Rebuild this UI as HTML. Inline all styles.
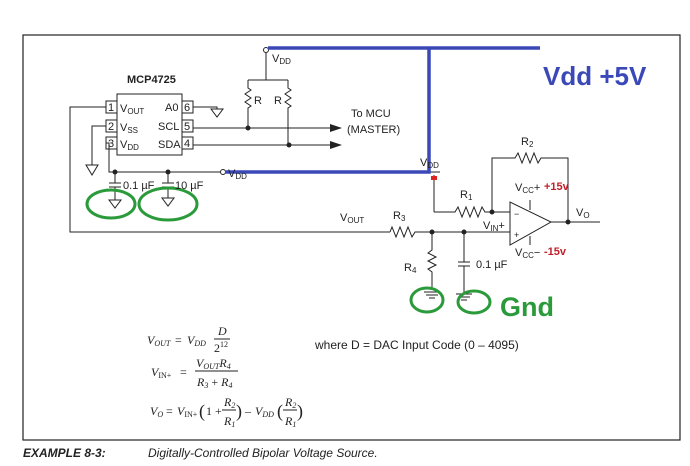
<!DOCTYPE html>
<html><head><meta charset="utf-8"><style>
html,body{margin:0;padding:0;background:#fff;}
svg{display:block;font-family:"Liberation Sans",sans-serif;}
.s{font-family:"Liberation Serif",serif;font-style:italic;}
</style></head><body>
<svg width="690" height="466" viewBox="0 0 690 466" xmlns="http://www.w3.org/2000/svg">
<rect x="23" y="35" width="657" height="405" fill="none" stroke="#222" stroke-width="1.2"/>
<g stroke="#222" stroke-width="1" fill="none">
<rect x="117" y="94" width="65" height="61"/>
<rect x="106" y="101" width="11" height="12"/><rect x="106" y="120" width="11" height="12"/><rect x="106" y="137" width="11" height="12"/>
<rect x="182" y="101" width="11" height="12"/><rect x="182" y="120" width="11" height="12"/><rect x="182" y="137" width="11" height="12"/>
<polyline points="106,107 70,107 70,232 390,232"/>
<polyline points="106,126 92,126 92,165"/>
<polygon points="86,165 98,165 92,175"/>
<polyline points="106,143 109,143 109,172 220,172"/>
<circle cx="223" cy="172" r="2.5"/>
<line x1="115" y1="172" x2="115" y2="183"/><line x1="109" y1="183" x2="121" y2="183"/><line x1="109" y1="187" x2="121" y2="187"/><line x1="115" y1="187" x2="115" y2="200"/>
<polygon points="109,200 121,200 115,208"/>
<line x1="168" y1="172" x2="168" y2="183"/><line x1="162" y1="183" x2="174" y2="183"/><line x1="162" y1="187" x2="174" y2="187"/><line x1="168" y1="187" x2="168" y2="198"/>
<polygon points="162,198 174,198 168,206"/>
<polyline points="193,107 217,107 217,109"/>
<polygon points="211,109 223,109 217,117"/>
<line x1="193" y1="128" x2="330" y2="128"/><line x1="193" y1="145" x2="330" y2="145"/>
<line x1="266" y1="53" x2="266" y2="80"/><line x1="248" y1="80" x2="288" y2="80"/>
<polyline points="248,80 248,88 251,90 245,94 251,98 245,102 251,106 248,108 248,128"/>
<polyline points="288,80 288,88 291,90 285,94 291,98 285,102 291,106 288,108 288,145"/>
<circle cx="266" cy="50" r="2.5"/>
<line x1="434" y1="175" x2="434" y2="212"/><line x1="430" y1="172" x2="440" y2="172"/>
<polyline points="434,212 455,212 458,207 462,217 466,207 470,217 474,207 478,217 482,207 485,212 510,212"/>
<polyline points="492,212 492,158 515,158 518,153 522,163 526,153 530,163 534,153 538,163 541,158 568,158 568,222"/>
<line x1="551" y1="222" x2="600" y2="222"/>
<polygon points="510,202 510,245 551,222"/>
<line x1="530" y1="200" x2="530" y2="210"/><line x1="530" y1="236" x2="530" y2="245"/>
<polyline points="390,232 392,227 396,237 400,227 404,237 408,227 412,237 415,232 510,232"/>
<polyline points="432,232 432,250 428,253 436,257 428,261 436,265 428,269 432,272 432,290"/>
<line x1="464" y1="232" x2="464" y2="262"/><line x1="458" y1="262" x2="470" y2="262"/><line x1="458" y1="266" x2="470" y2="266"/><line x1="464" y1="266" x2="464" y2="292"/>
<line x1="424" y1="292" x2="440" y2="292"/><line x1="426" y1="295" x2="438" y2="295"/><line x1="429" y1="298" x2="435" y2="298"/>
<line x1="456" y1="294" x2="472" y2="294"/><line x1="458" y1="297" x2="470" y2="297"/><line x1="461" y1="300" x2="467" y2="300"/>
</g>
<g fill="#222">
<polygon points="330,124 342,128 330,132"/><polygon points="330,141 342,145 330,149"/>
<circle cx="248" cy="128" r="2.5"/><circle cx="289" cy="145" r="2.5"/>
<circle cx="115" cy="172" r="2.5"/><circle cx="168" cy="172" r="2.5"/>
<circle cx="492" cy="212" r="2.5"/><circle cx="568" cy="222" r="2.5"/>
<circle cx="432" cy="232" r="2.5"/><circle cx="464" cy="232" r="2.5"/>
</g>
<rect x="431" y="176" width="6" height="4" fill="#d22"/>
<g stroke="#3a48b8" stroke-width="3.5" fill="none">
<polyline points="268,48 540,48"/><polyline points="429,48 429,172 225,172"/>
</g>
<text x="543" y="85" font-size="26" font-weight="bold" fill="#3a48b8">Vdd +5V</text>
<g stroke="#2a9a3a" stroke-width="3" fill="none">
<ellipse cx="111" cy="204" rx="24" ry="14"/><ellipse cx="168" cy="204" rx="29" ry="16"/>
<ellipse cx="427" cy="300" rx="16" ry="12"/><ellipse cx="474" cy="302" rx="16" ry="11"/>
</g>
<text x="500" y="316" font-size="27" font-weight="bold" fill="#2a9a3a">Gnd</text>
<g font-size="11" fill="#222">
<text x="127" y="83" font-weight="bold">MCP4725</text>
<text x="108" y="111">1</text><text x="108" y="130">2</text><text x="108" y="147">3</text>
<text x="184" y="111">6</text><text x="184" y="130">5</text><text x="184" y="147">4</text>
<text x="120" y="112">V<tspan font-size="8" dy="2">OUT</tspan></text>
<text x="120" y="131">V<tspan font-size="8" dy="2">SS</tspan></text>
<text x="120" y="148">V<tspan font-size="8" dy="2">DD</tspan></text>
<text x="165" y="111">A0</text><text x="158" y="130">SCL</text><text x="158" y="148">SDA</text>
<text x="272" y="62">V<tspan font-size="8" dy="2">DD</tspan></text>
<text x="228" y="177">V<tspan font-size="8" dy="2">DD</tspan></text>
<text x="254" y="104">R</text><text x="274" y="104">R</text>
<text x="351" y="117">To MCU</text><text x="347" y="133">(MASTER)</text>
<text x="123" y="189">0.1 µF</text><text x="175" y="189">10 µF</text>
<text x="420" y="166">V<tspan font-size="8" dy="2">DD</tspan></text>
<text x="460" y="198">R<tspan font-size="8" dy="2">1</tspan></text>
<text x="521" y="145">R<tspan font-size="8" dy="2">2</tspan></text>
<text x="393" y="219">R<tspan font-size="8" dy="2">3</tspan></text>
<text x="404" y="271">R<tspan font-size="8" dy="2">4</tspan></text>
<text x="340" y="221">V<tspan font-size="8" dy="2">OUT</tspan></text>
<text x="483" y="229">V<tspan font-size="8" dy="2">IN</tspan><tspan dy="-2">+</tspan></text>
<text x="576" y="216">V<tspan font-size="8" dy="2">O</tspan></text>
<text x="515" y="191">V<tspan font-size="8" dy="2">CC</tspan><tspan dy="-2">+</tspan></text>
<text x="515" y="256">V<tspan font-size="8" dy="2">CC</tspan><tspan dy="-2">−</tspan></text>
<text x="476" y="268">0.1 µF</text>
<text x="514" y="217" font-size="9">−</text><text x="514" y="238" font-size="9">+</text>
</g>
<text x="544" y="190" font-size="11" font-weight="bold" fill="#c0202a">+15v</text>
<text x="544" y="255" font-size="11" font-weight="bold" fill="#c0202a">-15v</text>
<!-- equations -->
<g class="s" font-size="12" fill="#222">
<text x="147" y="344">V<tspan font-size="8" dy="2">OUT</tspan></text>
<text x="175" y="344" font-style="normal">=</text>
<text x="187" y="344">V<tspan font-size="8" dy="2">DD</tspan></text>
<text x="218" y="335">D</text><line x1="214" y1="339" x2="230" y2="339" stroke="#222"/>
<text x="214" y="352" font-style="normal">2<tspan font-size="8" dy="-5">12</tspan></text>

<text x="151" y="376">V<tspan font-size="8" dy="2" font-style="normal">IN+</tspan></text>
<text x="180" y="376" font-style="normal">=</text>
<text x="196" y="367">V<tspan font-size="8" dy="2">OUT</tspan><tspan dy="-2">R</tspan><tspan font-size="8" dy="2">4</tspan></text>
<line x1="195" y1="371" x2="238" y2="371" stroke="#222"/>
<text x="197" y="386">R<tspan font-size="8" dy="2">3</tspan><tspan dy="-2" font-style="normal"> + </tspan>R<tspan font-size="8" dy="2">4</tspan></text>

<text x="150" y="415">V<tspan font-size="8" dy="2">O</tspan></text>
<text x="166" y="415" font-style="normal">=</text>
<text x="177" y="415">V<tspan font-size="8" dy="2" font-style="normal">IN+</tspan></text>
<text x="199" y="417" font-size="18" font-style="normal">(</text>
<text x="206" y="415" font-style="normal">1 +</text>
<text x="224" y="406">R<tspan font-size="8" dy="2">2</tspan></text><line x1="222" y1="410" x2="236" y2="410" stroke="#222"/>
<text x="224" y="425">R<tspan font-size="8" dy="2">1</tspan></text>
<text x="236" y="417" font-size="18" font-style="normal">)</text>
<text x="245" y="415" font-style="normal">–</text>
<text x="255" y="415">V<tspan font-size="8" dy="2">DD</tspan></text>
<text x="277" y="417" font-size="18" font-style="normal">(</text>
<text x="285" y="406">R<tspan font-size="8" dy="2">2</tspan></text><line x1="283" y1="410" x2="297" y2="410" stroke="#222"/>
<text x="285" y="425">R<tspan font-size="8" dy="2">1</tspan></text>
<text x="297" y="417" font-size="18" font-style="normal">)</text>
</g>
<text x="315" y="349" font-size="12" fill="#222">where D = DAC Input Code (0 – 4095)</text>
<text x="23" y="457" font-size="12" font-weight="bold" font-style="italic" fill="#222">EXAMPLE 8-3:</text>
<text x="148" y="457" font-size="12" font-style="italic" fill="#222">Digitally-Controlled Bipolar Voltage Source.</text>
</svg>
</body></html>
